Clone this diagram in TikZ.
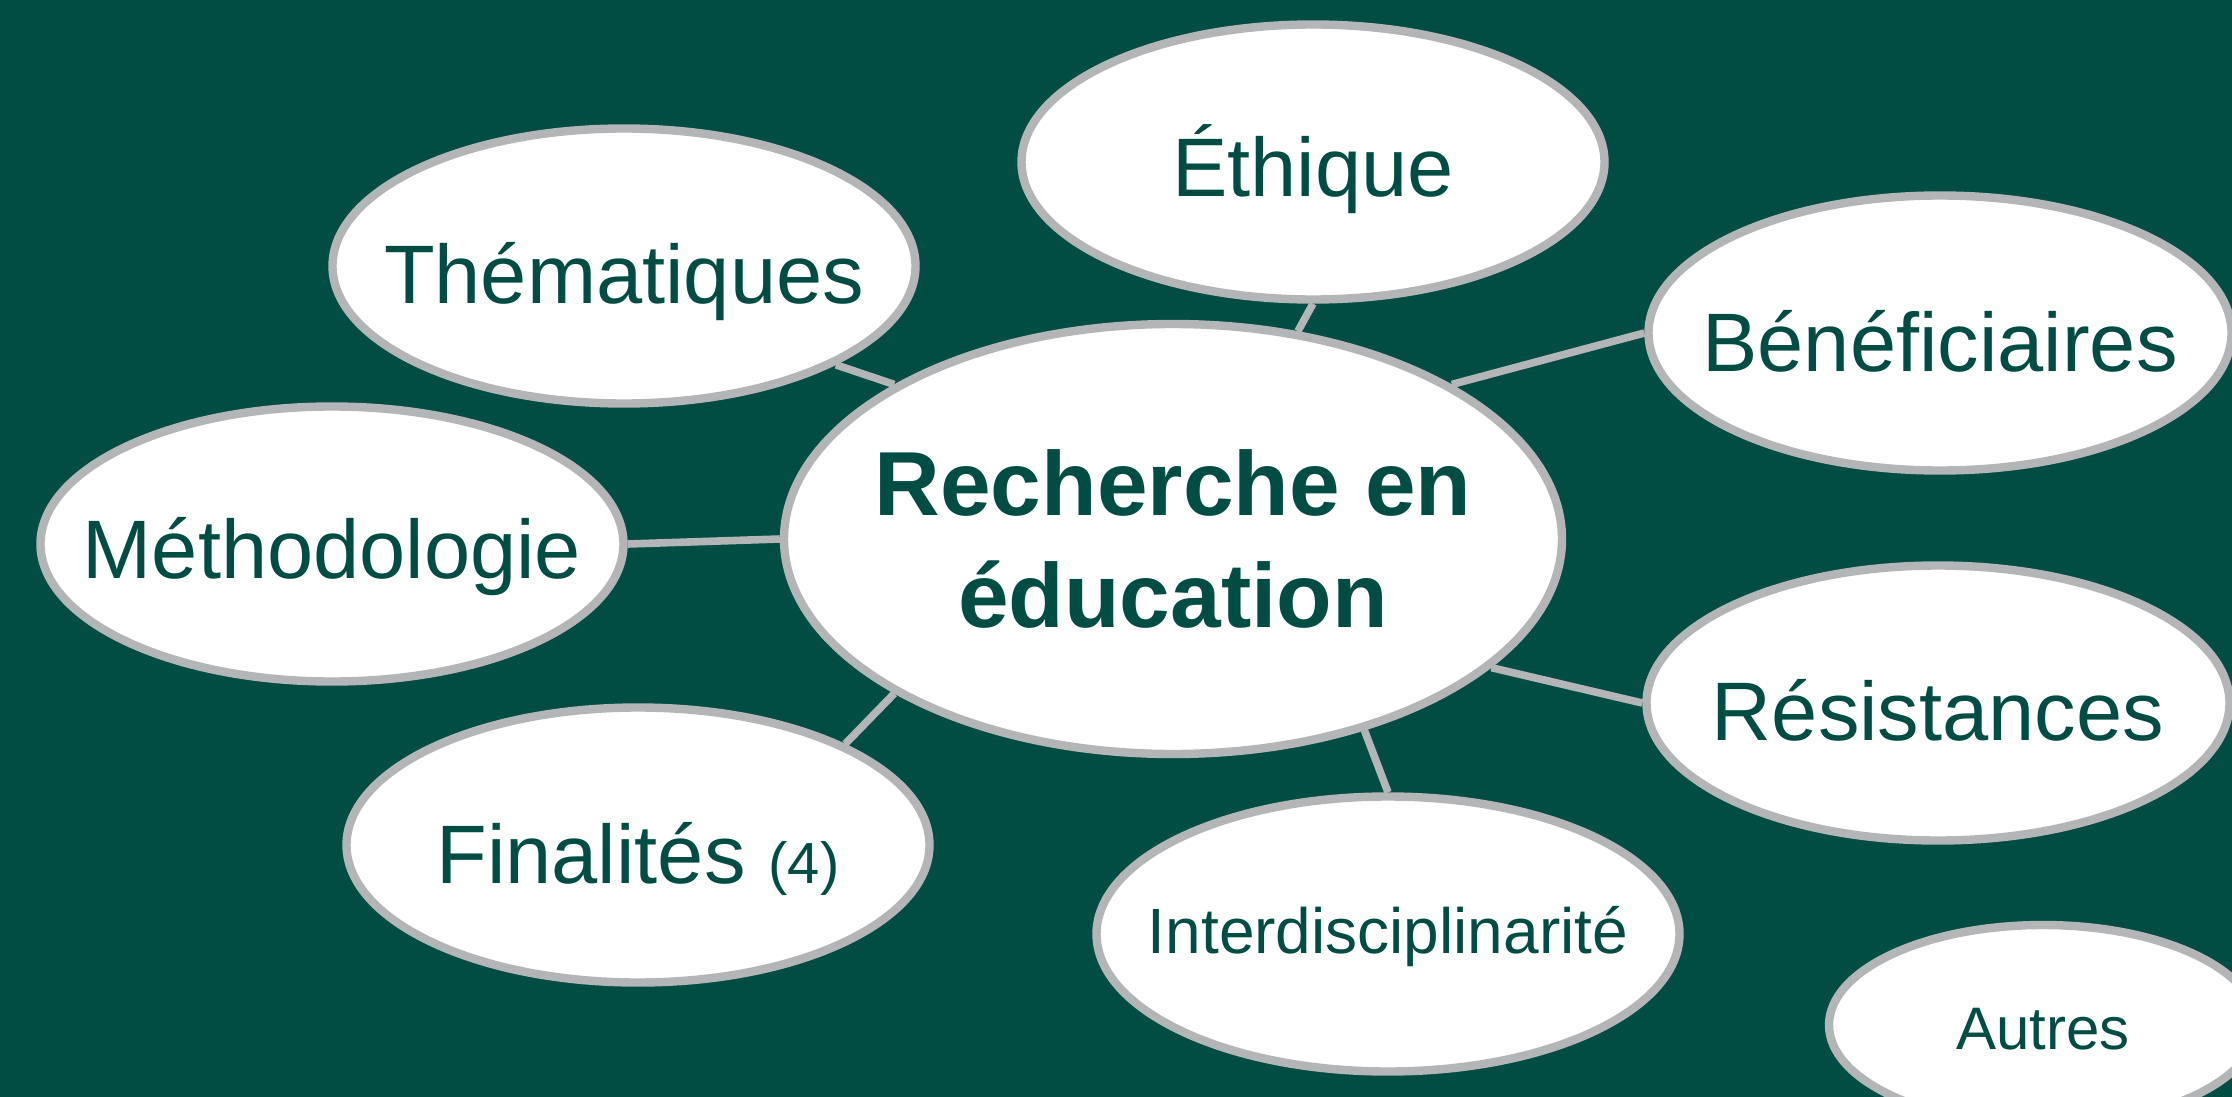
\documentclass[tikz,border=0pt]{standalone}
\usepackage{fontspec}
\setmainfont{Liberation Sans}
\usetikzlibrary{shapes.geometric}
\definecolor{bg}{HTML}{024D43}
\definecolor{rim}{HTML}{B4B5B7}
\begin{document}
\begin{tikzpicture}[x=0.5pt,y=-0.5pt,
  bubble/.style={ellipse, draw=rim, fill=white, line width=4.2pt, inner sep=0pt,
    text=bg, minimum width=291.5pt, minimum height=137.5pt,
    font=\fontsize{41.5}{50}\selectfont, text depth=0pt},
  link/.style={draw=rim, line width=3.8pt}]
\clip (0,0) rectangle (2232,1097);
\fill[bg] (0,0) rectangle (2232,1097);
\node[bubble, minimum width=389pt, minimum height=215pt,
  font=\fontsize{45.5}{56}\selectfont\bfseries, align=center] (c) at (1173,539)
  {\makebox[0pt]{Recherche en}\\\makebox[0pt]{éducation}};
\node[bubble, text height=34pt] (eth) at (1313,162) {\makebox[0pt]{Éthique}};
\node[bubble, text height=37pt] (them) at (624,266) {\makebox[0pt]{Thématiques}};
\node[bubble, text height=38pt] (benef) at (1940,333) {\makebox[0pt]{Bénéficiaires}};
\node[bubble, text height=34pt] (meth) at (332,544) {\makebox[0pt]{Méthodologie}};
\node[bubble, text height=37pt] (resist) at (1938,703) {\makebox[0pt]{Résistances}};
\node[bubble, text height=38pt] (final) at (638,845) {\makebox[0pt]{Finalités {\fontsize{29}{35}\selectfont(4)}}};
\node[bubble, text height=19pt, font=\fontsize{32}{38}\selectfont] (inter) at (1388,934) {\makebox[0pt]{Interdisciplinarité}};
\node[bubble, minimum width=214pt, minimum height=100pt, text height=24pt,
  font=\fontsize{30}{36}\selectfont] (autres) at (2043,1025) {\makebox[0pt]{Autres}};
\draw[link] (them.-25.9) -- (c.151);
\draw[link] (eth.-90) -- (c.59);
\draw[link] (benef.180) -- (c.29.3);
\draw[link] (meth.0) -- (c.180);
\draw[link] (resist.180) -- (c.-22.5);
\draw[link] (final.26) -- (c.-151);
\draw[link] (inter.90) -- (c.-45);
\end{tikzpicture}
\end{document}
